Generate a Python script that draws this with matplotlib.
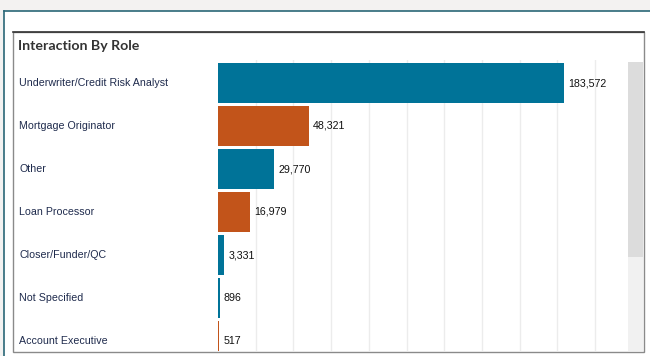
import matplotlib
matplotlib.use("Agg")
import matplotlib.pyplot as plt
from matplotlib.patches import Rectangle
from matplotlib.transforms import blended_transform_factory

# data
ROLES = ["Underwriter/Credit Risk Analyst", "Mortgage Originator", "Other",
         "Loan Processor", "Closer/Funder/QC", "Not Specified", "Account Executive"]
COUNTS = [183572, 48321, 29770, 16979, 3331, 896, 517]
TICKS = [20000, 40000, 60000, 80000, 100000, 120000, 140000, 160000, 180000, 200000]

TEAL = "#007398"
ORANGE = "#c2541a"
COLORS = [TEAL, ORANGE, TEAL, ORANGE, TEAL, TEAL, ORANGE]

W, H = 650, 356


def fx(x):
    return x / W


def fy(y):
    return 1 - y / H


fig = plt.figure(figsize=(W / 100, H / 100), dpi=100, facecolor="#f3f2f1")

# outer card + inner panel
fig.patches.append(Rectangle((fx(4), fy(H)), fx(W - 4), (H - 11) / H,
                             transform=fig.transFigure, facecolor="white",
                             edgecolor="none", zorder=0))
fig.add_artist(plt.Line2D([fx(4), 1], [fy(11), fy(11)], color="#2a6777", lw=1.2))
fig.add_artist(plt.Line2D([fx(4), fx(4)], [fy(11), 0], color="#2a6777", lw=1.2))
fig.patches.append(Rectangle((fx(13), fy(352)), fx(644 - 13), (352 - 32) / H,
                             transform=fig.transFigure, facecolor="white",
                             edgecolor="#8a8a8a", lw=1.0, zorder=0))
fig.add_artist(plt.Line2D([fx(13), fx(644)], [fy(32), fy(32)], color="#333333", lw=1.2))

# scrollbar
fig.patches.append(Rectangle((fx(628), fy(351)), fx(15), (351 - 62) / H,
                             transform=fig.transFigure, facecolor="#f1f1f1",
                             edgecolor="none", zorder=1))
fig.patches.append(Rectangle((fx(628), fy(257)), fx(15), (257 - 62) / H,
                             transform=fig.transFigure, facecolor="#dcdcdc",
                             edgecolor="none", zorder=1))

fig.text(fx(18), fy(46), "Interaction By Role", family="Lato", weight="bold",
         fontsize=10.2, color="#333333", va="center", ha="left")

# plotting area
ax = fig.add_axes([fx(218), fy(351), fx(628 - 218), (351 - 60) / H])
ax.set_zorder(5)
ax.set_facecolor("none")
px_per_unit = (595 - 218) / 200000
ax.set_xlim(0, (628 - 218) / px_per_unit)
row = 43
ax.set_ylim((351 - 83) / row, -(83 - 60) / row)

ypos = list(range(len(ROLES)))
ax.barh(ypos, COUNTS, height=40 / row, color=COLORS, zorder=2)
for t in TICKS:
    ax.axvline(t, color="#ececec", lw=1, zorder=1)

for y, v in zip(ypos, COUNTS):
    ax.annotate(f"{v:,}", (v, y), xytext=(3, 0), textcoords="offset points",
                va="center", ha="left", fontsize=7.7, family="Liberation Sans",
                color="#111111")

tr = blended_transform_factory(fig.transFigure, ax.transData)
for y, name in zip(ypos, ROLES):
    ax.text(fx(19), y, name, transform=tr, va="center", ha="left",
            fontsize=7.7, family="Liberation Sans", color="#1f2b4d",
            clip_on=False)

for s in ax.spines.values():
    s.set_visible(False)
ax.set_xticks([])
ax.set_yticks([])

fig.savefig("out.png", dpi=100, facecolor=fig.get_facecolor())
